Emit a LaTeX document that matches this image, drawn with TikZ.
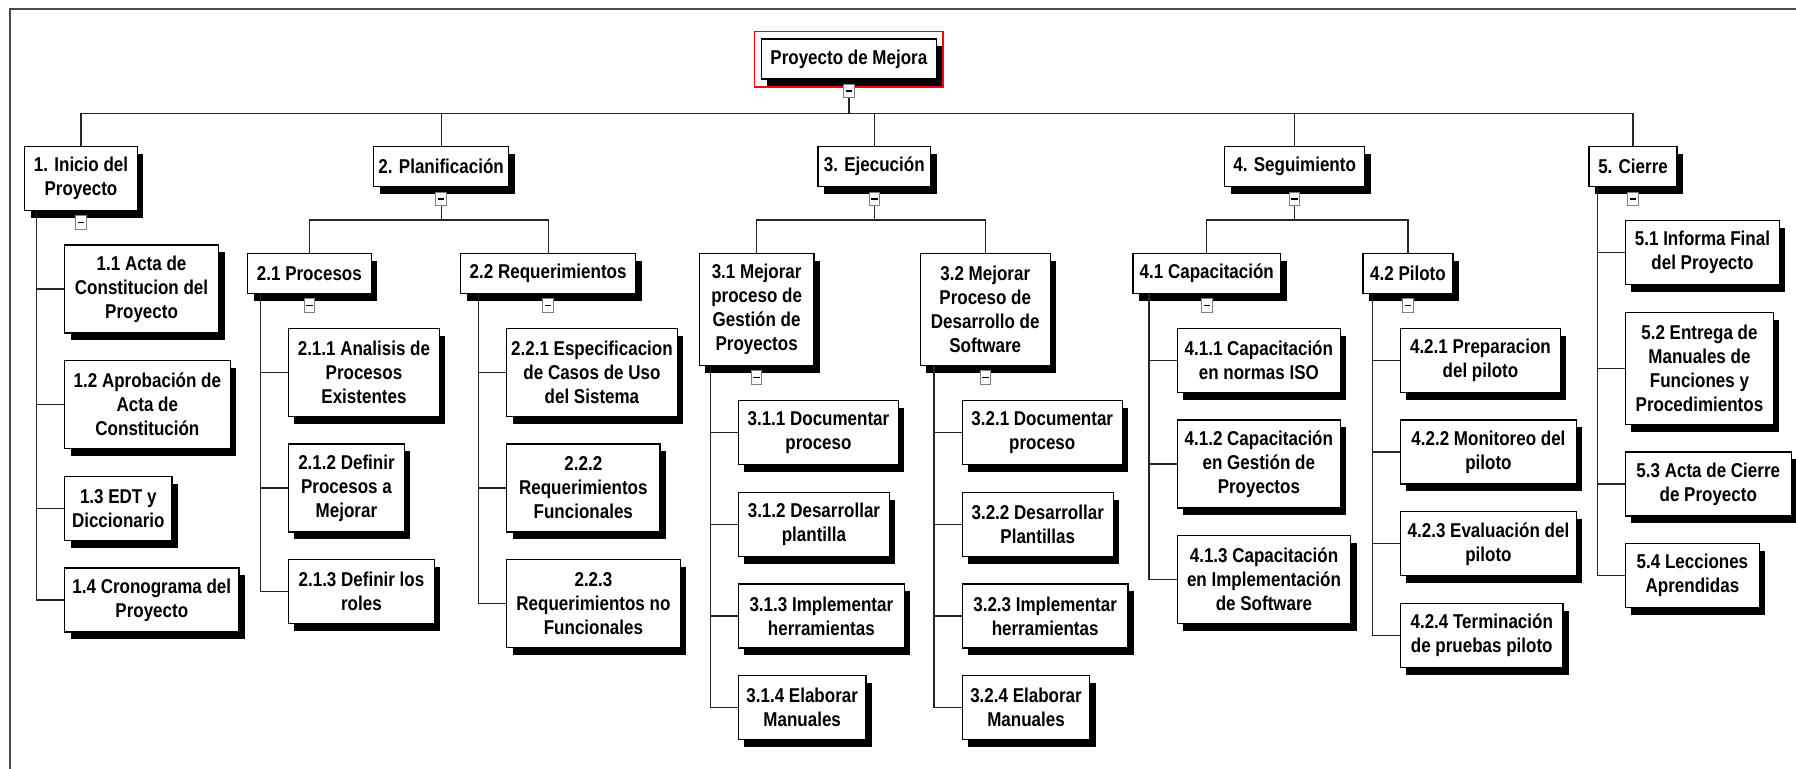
\documentclass[tikz,border=0pt]{standalone}
\usepackage{fontspec}
\setmainfont{Liberation Sans}[FakeStretch=0.85]
\usetikzlibrary{positioning,shadows}

\begin{document}
\begin{tikzpicture}[x=0.5pt, y=-0.5pt,
    font=\fontsize{10}{12}\selectfont\bfseries,
    wb/.style={draw, fill=white, line width=0.65pt, align=center, inner sep=1pt,
               anchor=north west, minimum width=#1,
               drop shadow={shadow xshift=3pt, shadow yshift=-3.6pt, fill=black, opacity=1}},
    h1/.style={minimum height=20pt},
    h2/.style={minimum height=32pt},
    h3/.style={minimum height=44pt},
    h4/.style={minimum height=56pt},
    under/.style={below=13.2pt of #1.south west, anchor=north west},
    tg/.style={draw=gray, fill=white, line width=0.5pt, inner sep=0pt,
               minimum width=5.2pt, minimum height=6.6pt, below=2.2pt of #1},
    link/.style={draw=black!85, line width=0.65pt}]

   \path[use as bounding box, fill=white] (0,0) rectangle (1796,769);
   \draw[black!70, line width=0.75pt] (10,769) |- (1796,9);

   % root
   \node[wb=87.5pt, h1] (n0) at (760.7,38.3) {Proyecto de Mejora};
   \draw[red, line width=0.6pt] ([shift={(-3.25pt,3.3pt)}]n0.north west)
        rectangle ([shift={(3pt,-3.7pt)}]n0.south east);

   % phases
   \node[wb=56.25pt, h2] (n1) at (24.1,145.7) {1. Inicio del\\Proyecto};
   \node[wb=67.5pt, h1] (n2) at (373,146) {2. Planificación};
   \node[wb=56.25pt, h1] (n3) at (817.4,146) {3. Ejecución};
   \node[wb=70pt, h1] (n4) at (1224,146) {4. Seguimiento};
   \node[wb=44pt, h1] (n5) at (1588.4,146) {5. Cierre};

   % second level
   \node[wb=61.75pt, h1] (n21) at (247,252.7) {2.1 Procesos};
   \node[wb=87.5pt, h1] (n22) at (460,252.7) {2.2 Requerimientos};
   \node[wb=57.3pt, h4] (n31) at (698.7,252.7) {3.1 Mejorar\\proceso de\\Gestión de\\Proyectos};
   \node[wb=65pt, h4] (n32) at (919.6,252.7) {3.2 Mejorar\\Proceso de\\Desarrollo de\\Software};
   \node[wb=73.85pt, h1] (n41) at (1132.3,252.7) {4.1 Capacitación};
   \node[wb=45pt, h1] (n42) at (1362.3,252.7) {4.2 Piloto};

   % work packages
   \node[wb=77pt, h3] (n11) at (63.9,244.3) {1.1 Acta de\\Constitucion del\\Proyecto};
   \node[wb=82.85pt, h3, under=n11] (n12) {1.2 Aprobación de\\Acta de\\Constitución};
   \node[wb=53.75pt, h2, under=n12] (n13) {1.3 EDT y\\Diccionario};
   \node[wb=87.25pt, h2, under=n13] (n14) {1.4 Cronograma del\\Proyecto};

   \node[wb=75.5pt, h3] (n211) at (287.8,327.7) {2.1.1 Analisis de\\Procesos\\Existentes};
   \node[wb=58pt, h3, under=n211] (n212) {2.1.2 Definir\\Procesos a\\Mejorar};
   \node[wb=73pt, h2, under=n212] (n213) {2.1.3 Definir los\\roles};

   \node[wb=85.3pt, h3] (n221) at (506,327.7) {2.2.1 Especificacion\\de Casos de Uso\\del Sistema};
   \node[wb=76.65pt, h3, under=n221] (n222) {2.2.2\\Requerimientos\\Funcionales};
   \node[wb=86.8pt, h3, under=n222] (n223) {2.2.3\\Requerimientos no\\Funcionales};

   \node[wb=80pt, h2] (n311) at (737.8,400) {3.1.1 Documentar\\proceso};
   \node[wb=75.5pt, h2, under=n311] (n312) {3.1.2 Desarrollar\\plantilla};
   \node[wb=82.9pt, h2, under=n312] (n313) {3.1.3 Implementar\\herramientas};
   \node[wb=63.75pt, h2, under=n313] (n314) {3.1.4 Elaborar\\Manuales};

   \node[wb=80pt, h2] (n321) at (961.6,400) {3.2.1 Documentar\\proceso};
   \node[wb=75.5pt, h2, under=n321] (n322) {3.2.2 Desarrollar\\Plantillas};
   \node[wb=82.9pt, h2, under=n322] (n323) {3.2.3 Implementar\\herramientas};
   \node[wb=63.75pt, h2, under=n323] (n324) {3.2.4 Elaborar\\Manuales};

   \node[wb=81.5pt, h2] (n411) at (1176.7,327.7) {4.1.1 Capacitación\\en normas ISO};
   \node[wb=81.5pt, h3, under=n411] (n412) {4.1.2 Capacitación\\en Gestión de\\Proyectos};
   \node[wb=86.65pt, h3, under=n412] (n413) {4.1.3 Capacitación\\en Implementación\\de Software};

   \node[wb=80pt, h2] (n421) at (1399.8,327.7) {4.2.1 Preparacion\\del piloto};
   \node[wb=88pt, h2, under=n421] (n422) {4.2.2 Monitoreo del\\piloto};
   \node[wb=88pt, h2, under=n422] (n423) {4.2.3 Evaluación del\\piloto};
   \node[wb=81.3pt, h2, under=n423] (n424) {4.2.4 Terminación\\de pruebas piloto};

   \node[wb=77pt, h2] (n51) at (1624.8,220) {5.1 Informa Final\\del Proyecto};
   \node[wb=74pt, h4, under=n51] (n52) {5.2 Entrega de\\Manuales de\\Funciones y\\Procedimientos};
   \node[wb=82.85pt, h2, under=n52] (n53) {5.3 Acta de Cierre\\de Proyecto};
   \node[wb=67pt, h2, under=n53] (n54) {5.4 Lecciones\\Aprendidas};

   % collapse toggles under every parent
   \foreach \p in {n0,n1,n2,n3,n4,n5,n21,n22,n31,n32,n41,n42}
      \node[tg=\p] (\p-t) {\rule{3.3pt}{0.9pt}};

   % buses
   \coordinate (b0) at (0,113.3);
   \coordinate (b1) at (0,220);
   \draw[link] (n0-t.south) -- (n0-t.south |- b0)
               (n1.north) |- (b0 -| n5.north) -- (n5.north);
   \foreach \n in {n2,n3,n4}
      \draw[link] (\n.north) -- (\n.north |- b0);
   \foreach \p/\a/\b in {n2/n21/n22, n3/n31/n32, n4/n41/n42}
      \draw[link] (\p-t.south) -- (\p-t.south |- b1)
                  (\a.north) |- (b1 -| \b.north) -- (\b.north);

   % spines down the work package lists
   \foreach \p/\f/\l in {n1/n11/n14, n21/n211/n213, n22/n221/n223, n31/n311/n314,
                         n32/n321/n324, n41/n411/n413, n42/n421/n424, n5/n51/n54}
      \draw[link] ([xshift=-13.8pt]\f.west |- \p.south) |- (\l.west);
   \foreach \c in {n11,n12,n13, n211,n212, n221,n222, n311,n312,n313, n321,n322,n323,
                   n411,n412, n421,n422,n423, n51,n52,n53}
      \draw[link] (\c.west) -- ++(-13.8pt,0);
\end{tikzpicture}
\end{document}
